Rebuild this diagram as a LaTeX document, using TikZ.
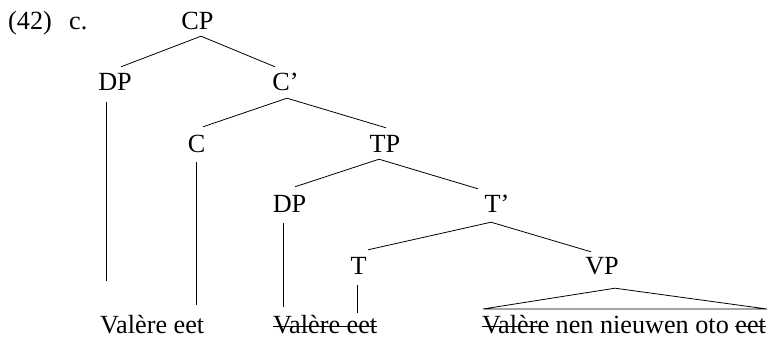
\documentclass[tikz,border=0pt]{standalone}
\usepackage{fontspec}
\setmainfont{Liberation Serif}
\newcommand{\mystrike}[1]{\setbox0\hbox{#1}\rlap{\rule[6.4pt]{\wd0}{1.2pt}}\box0\relax}
\begin{document}
\begin{tikzpicture}[x=1pt,y=-1pt,
  every node/.style={font=\fontsize{26.2}{30}\selectfont},
  cat/.style={inner xsep=0pt,inner ysep=7pt,text height=17pt,text depth=0pt,anchor=base},
  leaf/.style={inner sep=0pt,anchor=base west},
  branch/.style={line width=0.8pt,black}]
\useasboundingbox (0,0) rectangle (774,339);
% labels
\node[leaf] (num) at (8,30) {(42)};
\node[leaf] (let) at (69,30) {c.};
% category nodes
\node[cat] (CP)  at (197.5,30) {CP};
\node[cat] (DPa) at (115,91)   {DP};
\node[cat] (Cb)  at (285.5,91) {C'};
\node[cat] (C)   at (196.5,153) {C};
\node[cat] (TP)  at (385,153)  {TP};
\node[cat] (DPb) at (289.5,213) {DP};
\node[cat] (Tb)  at (497,213)  {T'};
\node[cat] (T)   at (358.5,275) {T};
\node[cat] (VP)  at (602,275)  {VP};
% leaves
\node[leaf] (l1) at (100,333.5) {Valère eet};
\node[leaf] (l2) at (273,333.5) {\mystrike{Valère eet}};
\node[leaf] (l3) at (482,333.5) {\mystrike{Valère} nen nieuwen oto \mystrike{eet}};
% free ends
\coordinate (eDPa) at (106,281);
\coordinate (eC)   at (196,305);
\coordinate (eDPb) at (283,307);
\coordinate (eT)   at (357,313);
\coordinate (trL)  at (483,309);
\coordinate (trR)  at (767,309);
% branches
\draw[branch] ([xshift=3.5pt,yshift=1pt]CP.south) -- ([xshift=6pt]DPa.north);
\draw[branch] ([xshift=3.5pt,yshift=1pt]CP.south) -- ([xshift=-10.5pt]Cb.north);
\draw[branch] ([xshift=1.5pt]Cb.south) -- ([xshift=6.5pt,yshift=2pt]C.north);
\draw[branch] ([xshift=1.5pt]Cb.south) -- ([xshift=1pt,yshift=1pt]TP.north);
\draw[branch] ([xshift=-6pt,yshift=1pt]TP.south) -- ([xshift=5.5pt,yshift=2pt]DPb.north);
\draw[branch] ([xshift=-6pt,yshift=1pt]TP.south) -- ([xshift=-19pt]Tb.north);
\draw[branch] ([xshift=-6pt,yshift=-2pt]Tb.south) -- ([xshift=9.5pt,yshift=1pt]T.north);
\draw[branch] ([xshift=-6pt,yshift=-2pt]Tb.south) -- ([xshift=-11pt,yshift=-1pt]VP.north);
\draw[branch] ([xshift=-9pt,yshift=-4pt]DPa.south) -- (eDPa);
\draw[branch] ([xshift=-0.5pt,yshift=-2pt]C.south) -- (eC);
\draw[branch] ([xshift=-6.5pt,yshift=-3pt]DPb.south) -- (eDPb);
\draw[branch] ([xshift=-1.5pt,yshift=-3pt]T.south) -- (eT);
\draw[branch,line join=miter] ([xshift=13pt,yshift=-6pt]VP.south) -- (trL) -- (trR) -- cycle;
\end{tikzpicture}
\end{document}
